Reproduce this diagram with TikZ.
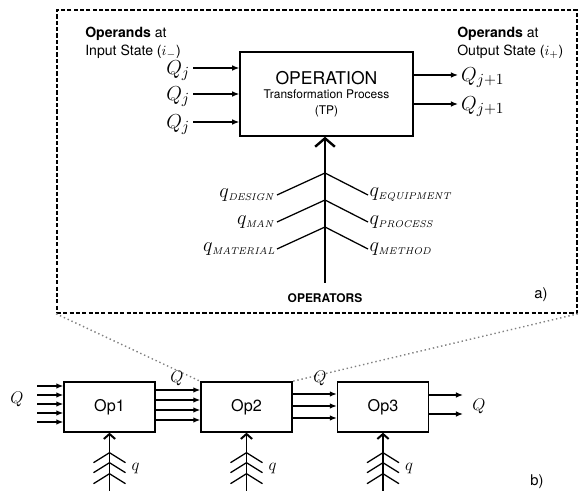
\documentclass[tikz,border=0pt]{standalone}
\usepackage[no-math]{fontspec}
\setmainfont{TeX Gyre Heros}
\usetikzlibrary{arrows.meta, positioning, calc}

\newcommand{\qsub}[1]{\mbox{\fontsize{7.5}{8}\selectfont$\mathit{#1}$}}

\tikzset{
  opbox/.style={draw, line width=1pt, minimum width=2.275cm, minimum height=1.25cm,
    inner sep=0pt, font=\fontsize{11.5}{13}\selectfont},
  flow/.style={-{Latex[length=5pt,width=4pt]}, line width=0.9pt},
  feedbig/.style={-{Straight Barb[length=6pt,width=14pt,line width=1.7pt]}, line width=1.5pt},
  feedsmall/.style={-{Straight Barb[length=3.5pt,width=8pt,line width=1.4pt]}, line width=1.1pt},
  bigq/.style={font=\fontsize{15.5}{17}\selectfont, inner sep=1pt},
  treeq/.style={font=\fontsize{15}{17}\selectfont, inner sep=1pt},
  smallq/.style={font=\fontsize{13}{15}\selectfont, inner sep=1pt},
}

\begin{document}
\begin{tikzpicture}[x=0.025cm, y=-0.025cm]
  \useasboundingbox (0,0) rectangle (580,491);

  % a) zoomed frame
  \node[draw, line width=1.1pt, dash pattern=on 3pt off 1.5pt, inner sep=0pt,
    minimum width=13cm, minimum height=7.575cm] (frame) at (317,161.5) {};

  % the operation
  \node[draw, line width=1pt, minimum width=4.325cm, minimum height=2.1cm, align=center]
    (op) at (326.5,94)
    {{\fontsize{12.5}{14}\selectfont OPERATION}\\[-2pt]
     {\fontsize{8.5}{10}\selectfont Transformation Process}\\[-1pt]
     {\fontsize{8.5}{10}\selectfont (TP)}};

  \node[anchor=north west, align=left, inner sep=0pt, font=\fontsize{10}{12.8}\selectfont]
    (inlabel) at (85,27) {\textbf{Operands} at\\Input State ($i_{-}$)};
  \node[anchor=north west, align=left, inner sep=0pt, font=\fontsize{10}{12.8}\selectfont]
    (outlabel) at (457,27) {\textbf{Operands} at\\Output State ($i_{+}$)};

  % input operands
  \foreach \y [count=\i] in {68,94,122} {
    \coordinate (in\i) at (193,\y);
    \node[bigq, left=1pt of in\i, yshift=-2pt] (qin\i) {$Q_j$};
    \draw[flow] (in\i) -- (in\i -| op.west);
  }

  % output operands
  \foreach \y [count=\i] in {75,104} {
    \coordinate (out\i) at (458,\y);
    \node[bigq, right=1pt of out\i, yshift=-2pt] (qout\i) {$Q_{j+1}$};
    \draw[flow] (out\i -| op.east) -- (out\i);
  }

  % operators
  \node[font=\bfseries\fontsize{8.5}{10}\selectfont] (operators) at (325,298) {OPERATORS};
  \coordinate (opbase) at (325,283);
  \draw[feedbig] (opbase) -- (opbase |- op.south);
  \foreach \y/\l/\r in {173/DESIGN/EQUIPMENT, 200/MAN/PROCESS, 227/MATERIAL/METHOD} {
    \coordinate (br\l) at (325,\y);
    \node[treeq, anchor=east] (ql\l) at (277,\y+22) {$q_{\qsub{\l}}$};
    \node[treeq, anchor=west] (qr\r) at (368,\y+22) {$q_{\qsub{\r}}$};
    \draw[line width=0.9pt] (ql\l.east) -- (br\l) -- (qr\r.west);
  }
  \node[font=\fontsize{10.5}{12}\selectfont] (alabel) at (541,295) {a)};

  % b) chain of operations
  \node[opbox] (op1) at (109.5,407) {Op1};
  \node[opbox] (op2) at (246.5,407) {Op2};
  \node[opbox] (op3) at (383,407) {Op3};

  \draw[dotted, line width=1pt, gray] (frame.south west) -- (op2.north west);
  \draw[dotted, line width=1pt, gray] (frame.south east) -- (op2.north east);

  \foreach \y in {386,395,404,413,422} {
    \coordinate (s) at (37,\y);
    \draw[flow] (s) -- (s -| op1.west);
  }
  \node[smallq] (q0) at (17,399) {$Q$};

  \foreach \y in {390,400,410,420} {
    \coordinate (s) at (0,\y);
    \draw[flow] (s -| op1.east) -- (s -| op2.west);
  }
  \node[smallq] (q1) at (177,378) {$Q$};

  \foreach \y in {394,406,418} {
    \coordinate (s) at (0,\y);
    \draw[flow] (s -| op2.east) -- (s -| op3.west);
  }
  \node[smallq] (q2) at (320,378) {$Q$};

  \foreach \y in {395,414} {
    \coordinate (s) at (463,\y);
    \draw[flow] (s -| op3.east) -- (s);
  }
  \node[smallq] (q3) at (479,406) {$Q$};

  % operators feeding each operation
  \foreach \n in {op1,op2,op3} {
    \coordinate (fb\n) at ($(\n.south)+(0,60)$);
    \draw[feedsmall] (fb\n) -- (\n.south);
    \foreach \dy in {20,30,41}
      \draw[line width=0.9pt] ($(\n.south)+(-16,\dy+10)$) -- ($(\n.south)+(0,\dy)$)
        -- ($(\n.south)+(16,\dy+10)$);
    \node[smallq] (q\n) at ($(\n.south)+(26,36)$) {$q$};
  }
  \node[font=\fontsize{10.5}{12}\selectfont] (blabel) at (537,482) {b)};
\end{tikzpicture}
\end{document}
